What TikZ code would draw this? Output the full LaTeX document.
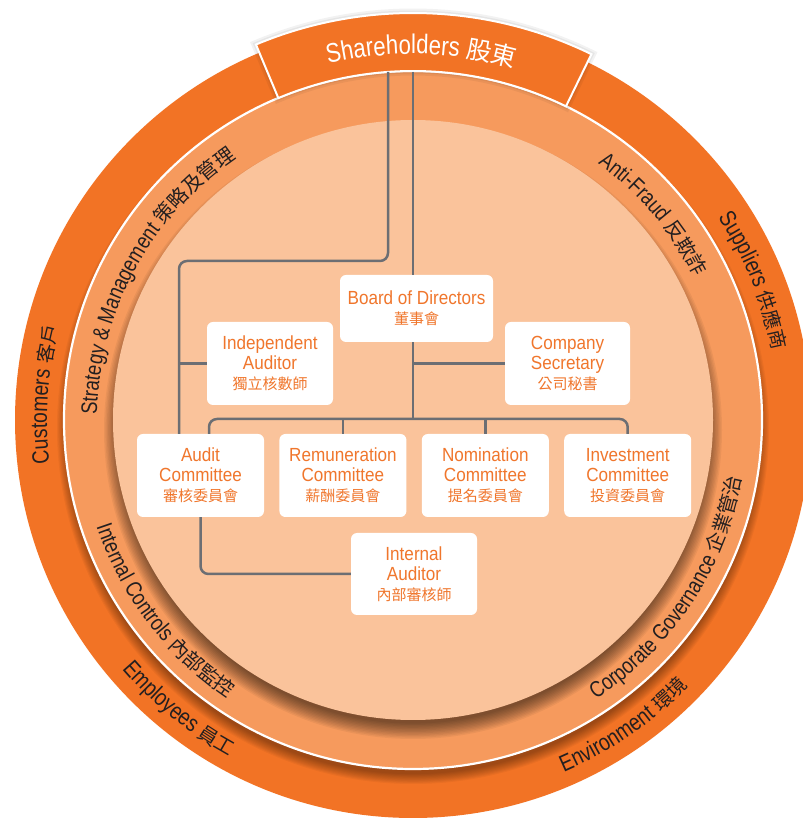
\documentclass[tikz,border=0pt]{standalone}
\usepackage{fontspec}
\setmainfont{Liberation Sans}
\newfontfamily\boxfont{Liberation Sans}[FakeStretch=0.9]
\newfontfamily\ringfont{Liberation Sans}[FakeStretch=0.82]
\newfontfamily\cjkfont{Noto Sans CJK TC}
\usetikzlibrary{positioning}

\definecolor{ringout}{RGB}{242,115,37}
\definecolor{ringmid}{RGB}{246,154,93}
\definecolor{ringin}{RGB}{250,195,155}
\definecolor{boxtext}{RGB}{240,118,44}
\definecolor{wire}{RGB}{108,110,115}
\definecolor{ringtext}{RGB}{35,31,32}

\newcommand\innerlat{\ringfont\fontsize{22.5}{26}\selectfont}
\newcommand\innercjk{\cjkfont\fontsize{20}{24}\selectfont}
\newcommand\outerlat{\ringfont\fontsize{23.5}{28}\selectfont}
\newcommand\outercjk{\cjkfont\fontsize{19.5}{23}\selectfont}
\newcommand\sharelat{\ringfont\fontsize{27}{32}\selectfont}
\newcommand\sharecjk{\cjkfont\fontsize{25}{30}\selectfont}
\newcommand\boxcjk{\cjkfont\fontsize{15}{18}\selectfont}

% letters set one by one round the rings
\newdimen\arcpos
\newdimen\chwd
\newdimen\arctot
\def\arcstop{ARCSTOP}
\def\arcmeasure#1{\pgfinterruptpicture\setbox0=\hbox{#1}\global\chwd=\wd0\endpgfinterruptpicture}
\def\arcwalk#1{\ifx#1\arcstop\else\arcput{#1}\expandafter\arcwalk\fi}
\def\arcput#1{%
  \arcmeasure{\arcfont#1}%
  \edef\arcoff{\the\arcpos}\edef\arcwid{\the\chwd}%
  \pgfmathsetmacro\arcang{\arcmid-(\arcdir)*(\arcoff+0.5*\arcwid)/\arcrad*57.29578}%
  \pgfmathsetmacro\arcrot{\arcang-90*(\arcdir)}%
  \node[anchor=base, inner sep=0pt, rotate=\arcrot, text=\arccol] at (\arcang:\arcrad) {\arcfont#1};%
  \global\advance\arcpos by \chwd}
% radius, middle angle, direction, colour, latin font, latin text, cjk font, cjk text
\newcommand\ringtext[8]{%
  \def\arcrad{#1}\def\arcmid{#2}\def\arcdir{#3}\def\arccol{#4}%
  \arcmeasure{#5#6}\global\arctot=\chwd
  \arcmeasure{#7#8}\global\advance\arctot by \chwd
  \global\arcpos=-0.5\arctot
  \def\arcfont{#5}\arcwalk#6\arcstop
  \def\arcfont{#7}\arcwalk#8\arcstop}

\tikzset{
  unit/.style={fill=white, rounded corners=6pt, minimum width=127pt, minimum height=83pt,
    inner sep=0pt, align=center, text=boxtext, font=\boxfont\fontsize{19}{20}\selectfont},
  link/.style={draw=wire, line width=2.5pt, rounded corners=8pt},
  tabshape/.style={insert path={(64:349) arc[start angle=64, end angle=112.7, radius=349]
    -- (112.7:407) arc[start angle=112.7, end angle=64, radius=407] -- cycle}},
}

\begin{document}
\begin{tikzpicture}[x=1pt, y=1pt]
  \clip (0,0) rectangle (803,820);
  \fill[white] (0,0) rectangle (803,820);
  \coordinate (C) at (413,400);

  \begin{scope}[shift={(C)}]
    % rings with soft shadows
    \fill[ringout] (0,0) circle (398);
    \foreach \k in {0,...,9}
      \fill[black, opacity=0.04] (0,-8) circle ({356-1.1*\k});
    \fill[ringmid] (0,0) circle (349);
    \draw[white, line width=2.2pt] (0,0) circle (349);
    \foreach \k in {0,...,11}
      \fill[black, opacity=0.05] (0,-10) circle ({309-1.4*\k});
    \fill[ringin] (0,0) circle (300);

    % shareholders tab
    \foreach \w in {9,5}
      \path[draw=black, opacity=0.05, line width=\w pt, tabshape];
    \path[fill=ringout, draw=white, line width=2pt, tabshape];
    \ringtext{366}{88.7}{1}{white}{\sharelat}{Shareholders~}{\sharecjk}{股東}

    % ring labels
    \ringtext{316}{151.5}{1}{ringtext}{\innerlat}{Strategy~\&~Management~}{\innercjk}{策略及管理}
    \ringtext{316}{40.5}{1}{ringtext}{\innerlat}{Anti-Fraud~}{\innercjk}{反欺詐}
    \ringtext{366}{176}{1}{ringtext}{\outerlat}{Customers~}{\outercjk}{客戶}
    \ringtext{366}{22.3}{1}{ringtext}{\outerlat}{Suppliers~}{\outercjk}{供應商}
    \ringtext{334}{217.5}{-1}{ringtext}{\innerlat}{Internal~Controls~}{\innercjk}{內部監控}
    \ringtext{334}{-33.4}{-1}{ringtext}{\innerlat}{Corporate~Governance~}{\innercjk}{企業管治}
    \ringtext{383}{231}{-1}{ringtext}{\outerlat}{Employees~}{\outercjk}{員工}
    \ringtext{383}{-55.4}{-1}{ringtext}{\outerlat}{Environment~}{\outercjk}{環境}
  \end{scope}

  % boxes
  \node[unit, minimum width=153pt, minimum height=67pt] (board) at (416.5,511.5)
    {Board of Directors\\{\boxcjk 董事會}};
  \node[unit, minimum width=126pt] (indaud) at (270,456.5)
    {Independent\\Auditor\\{\boxcjk 獨立核數師}};
  \node[unit, minimum width=125pt] (compsec) at (567.5,456.5)
    {Company\\Secretary\\{\boxcjk 公司秘書}};
  \node[unit] (audit) at (200.5,344.5) {Audit\\Committee\\{\boxcjk 審核委員會}};
  \node[unit, right=15pt of audit] (remun) {Remuneration\\Committee\\{\boxcjk 薪酬委員會}};
  \node[unit, right=15pt of remun] (nomin) {Nomination\\Committee\\{\boxcjk 提名委員會}};
  \node[unit, right=15pt of nomin] (invest) {Investment\\Committee\\{\boxcjk 投資委員會}};
  \node[unit, minimum width=126pt, minimum height=82pt] (intaud) at (414,246)
    {Internal\\Auditor\\{\boxcjk 內部審核師}};

  % connectors
  \coordinate (shA) at (388,748);
  \coordinate (shB) at (413,748);
  \coordinate (lft) at (179,559);
  \coordinate (bus) at (413,401);
  \draw[link] (shA) -- (shA |- lft) -- (lft) -- (lft |- audit.north);
  \draw[link] (indaud.west) -- (indaud.west -| lft);
  \draw[link] (shB) -- (shB |- board.north);
  \draw[link] (shB |- board.south) -- (bus);
  \draw[link] (shB |- compsec.west) -- (compsec.west);
  \draw[link] ([xshift=8.5pt]audit.north) -- ([xshift=8.5pt]audit.north |- bus)
    -- (invest.north |- bus) -- (invest.north);
  \draw[link] (remun.north) -- (remun.north |- bus);
  \draw[link] (nomin.north) -- (nomin.north |- bus);
  \draw[link] (audit.south) -- (audit.south |- intaud.west) -- (intaud.west);
\end{tikzpicture}
\end{document}
